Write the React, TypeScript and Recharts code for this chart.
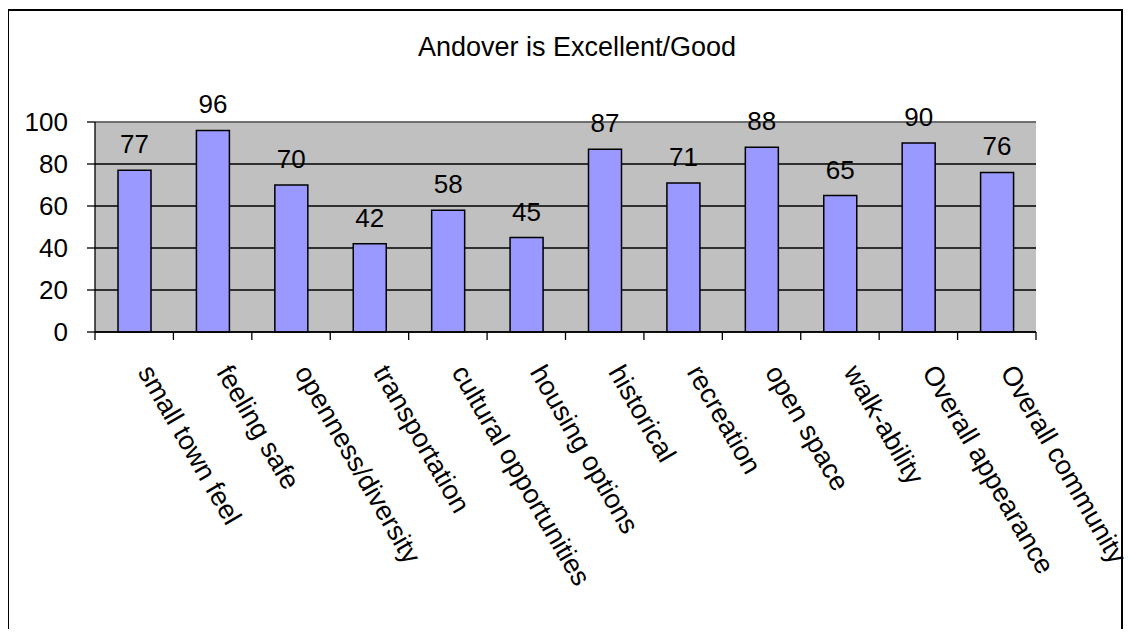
import React from "react";
import { BarChart, Bar, XAxis, YAxis, CartesianGrid, LabelList, ReferenceLine } from "recharts";

const categories = [
  "small town feel",
  "feeling safe",
  "openness/diversity",
  "transportation",
  "cultural opportunities",
  "housing options",
  "historical",
  "recreation",
  "open space",
  "walk-ability",
  "Overall appearance",
  "Overall community",
];
const excellentGood = [77, 96, 70, 42, 58, 45, 87, 71, 88, 65, 90, 76];
const yTicks = [0, 20, 40, 60, 80, 100];
const title = "Andover is Excellent/Good";

const data = categories.map((name, i) => ({ name, value: excellentGood[i] }));

const FONT = "'Liberation Sans', Arial, sans-serif";

const CatTick = (props: any) => {
  const { x, y, payload, index } = props;
  const off = payload && payload.offset ? payload.offset : 39.2;
  const ax = x + 3;
  const ay = y + 40;
  return (
    <g>
      <line x1={x - off} x2={x - off} y1={y} y2={y + 8} stroke="#000" strokeWidth={1.3} />
      {index === categories.length - 1 && (
        <line x1={x + off} x2={x + off} y1={y} y2={y + 8} stroke="#000" strokeWidth={1.3} />
      )}
      <text
        x={ax}
        y={ay}
        transform={`rotate(60, ${ax}, ${ay})`}
        fontSize={27}
        fontFamily={FONT}
        fill="#000"
        textAnchor="start"
      >
        {payload.value}
      </text>
    </g>
  );
};

export default function App() {
  return (
    <div style={{ position: "relative", margin: "-8px", width: 1133, height: 637, overflow: "hidden", background: "#fff" }}>
      <div
        style={{
          position: "absolute",
          left: 7,
          top: 9,
          width: 1112,
          height: 700,
          border: "2px solid #000",
        }}
      />
      <div
        style={{
          position: "absolute",
          left: 277,
          top: 34,
          width: 600,
          textAlign: "center",
          fontFamily: FONT,
          fontSize: 27,
          lineHeight: "27px",
          color: "#000",
        }}
      >
        {title}
      </div>
      <div style={{ position: "absolute", left: 0, top: 0 }}>
        <BarChart
          width={1133}
          height={637}
          data={data}
          margin={{ top: 122, right: 97, bottom: 105, left: 25 }}
          barSize={33}
        >
          <CartesianGrid vertical={false} stroke="#000" strokeWidth={1.3} fill="#C0C0C0" fillOpacity={1} />
          <XAxis
            dataKey="name"
            interval={0}
            height={200}
            tickSize={0}
            tickMargin={0}
            tickLine={false}
            axisLine={{ stroke: "#000", strokeWidth: 1.3 }}
            tick={<CatTick />}
          />
          <YAxis
            domain={[0, 100]}
            ticks={yTicks}
            width={70}
            tickSize={8}
            tickMargin={19}
            axisLine={{ stroke: "#000", strokeWidth: 1.3 }}
            tickLine={{ stroke: "#000", strokeWidth: 1.3 }}
            tick={{ fontSize: 26, fontFamily: FONT, fill: "#000" }}
          />
          <YAxis
            yAxisId="r"
            orientation="right"
            domain={[0, 100]}
            width={0}
            tick={false}
            tickLine={false}
            axisLine={{ stroke: "#808080", strokeWidth: 1.3 }}
          />
          <ReferenceLine y={100} stroke="#808080" strokeWidth={1.3} />
          <Bar dataKey="value" fill="#9999FF" stroke="#000" strokeWidth={1.5} isAnimationActive={false}>
            <LabelList
              dataKey="value"
              position="top"
              offset={17}
              fill="#000"
              fontSize={26}
              fontFamily={FONT}
            />
          </Bar>
        </BarChart>
      </div>
    </div>
  );
}
